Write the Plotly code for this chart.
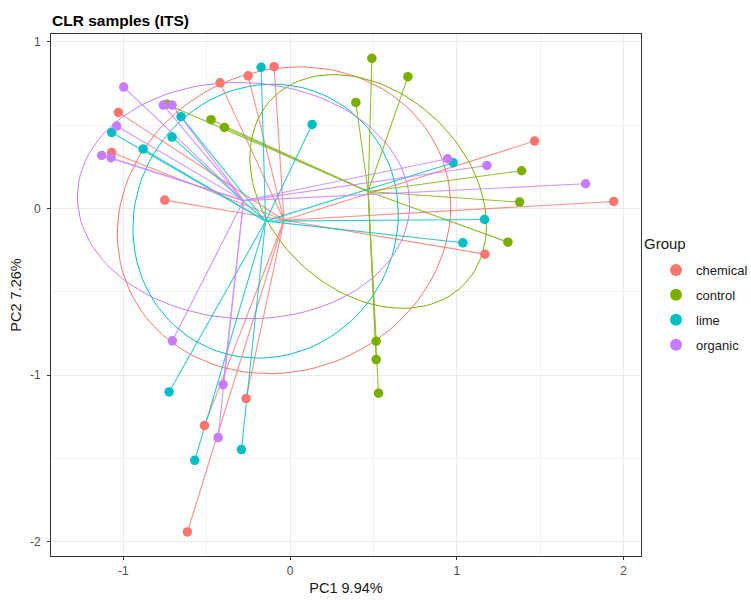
import numpy as np
import plotly.graph_objects as go

# ---- data ----
groups = ["chemical", "control", "lime", "organic"]
colors = ["#F8766D", "#7CAE00", "#00BFC4", "#C77CFF"]

chemical_pc1 = [-0.096, -0.252, -0.42, -1.03, -1.07, -0.752, 1.466, 1.94, 1.168, -0.264, -0.514, -0.616]
chemical_pc2 = [0.85, 0.795, 0.753, 0.576, 0.335, 0.05, 0.404, 0.042, -0.274, -1.14, -1.302, -1.94]

control_pc1 = [0.49, 0.706, 0.394, 1.388, 1.376, 1.306, 0.516, 0.516, 0.53, -0.74, -0.474, -0.394]
control_pc2 = [0.9, 0.79, 0.636, 0.226, 0.038, -0.202, -0.796, -0.906, -1.108, 0.625, 0.532, 0.486]

lime_pc1 = [-0.174, 0.132, -0.654, -0.708, -1.07, -0.882, 0.978, 1.166, 1.036, -0.726, -0.572, -0.292]
lime_pc2 = [0.846, 0.504, 0.55, 0.428, 0.456, 0.356, 0.274, -0.066, -0.206, -1.1, -1.51, -1.446]

organic_pc1 = [-0.998, -0.76, -0.708, -1.04, -1.13, -1.074, 0.944, 1.18, 1.772, -0.706, -0.402, -0.432]
organic_pc2 = [0.728, 0.62, 0.62, 0.494, 0.318, 0.304, 0.298, 0.258, 0.148, -0.794, -1.056, -1.374]

pc1 = [chemical_pc1, control_pc1, lime_pc1, organic_pc1]
pc2 = [chemical_pc2, control_pc2, lime_pc2, organic_pc2]

x_ticks = [-1, 0, 1, 2]
y_ticks = [-2, -1, 0, 1]


def sd_ellipse(x, y, npoints=100):
    """Standard-deviation ellipse (covariance ellipse, scale 1) around the centroid."""
    X = np.column_stack([x, y])
    center = X.mean(axis=0)
    cov = np.cov(X, rowvar=False)
    R = np.linalg.cholesky(cov).T
    ang = np.arange(npoints + 1) * 2 * np.pi / npoints
    circ = np.column_stack([np.cos(ang), np.sin(ang)])
    E = center + circ @ R
    return E[:, 0], E[:, 1]


fig = go.Figure()

# ellipses
for g, c, xs, ys in zip(groups, colors, pc1, pc2):
    ex, ey = sd_ellipse(np.array(xs), np.array(ys))
    fig.add_trace(go.Scatter(x=ex, y=ey, mode="lines", line=dict(color=c, width=1),
                             showlegend=False, hoverinfo="skip"))

# spiders
for g, c, xs, ys in zip(groups, colors, pc1, pc2):
    cx, cy = float(np.mean(xs)), float(np.mean(ys))
    sx, sy = [], []
    for a, b in zip(xs, ys):
        sx += [cx, a, None]
        sy += [cy, b, None]
    fig.add_trace(go.Scatter(x=sx, y=sy, mode="lines", line=dict(color=c, width=1.1),
                             opacity=0.8, showlegend=False, hoverinfo="skip"))

# points
for g, c, xs, ys in zip(groups, colors, pc1, pc2):
    fig.add_trace(go.Scatter(x=xs, y=ys, mode="markers", name=g, legendgroup=g,
                             marker=dict(color=c, size=9.5, line=dict(width=0))))

axis_common = dict(
    showgrid=True, gridcolor="#EBEBEB", gridwidth=1, automargin=False,
    zeroline=False, showline=True, linecolor="#333333", linewidth=1, mirror=True,
    ticks="outside", ticklen=3, tickcolor="#333333", tickwidth=1,
    tickfont=dict(family="Liberation Sans, Arial", size=12, color="#4D4D4D"),
    minor=dict(showgrid=True, gridcolor="#F2F2F2", gridwidth=1, dtick=0.5),
)

fig.update_layout(
    width=751, height=600,
    margin=dict(l=51, r=110, t=34, b=44, autoexpand=False),
    paper_bgcolor="white", plot_bgcolor="white",
    font=dict(family="Liberation Sans, Arial", color="black"),
    xaxis=dict(range=[-1.434, 2.104], tickvals=x_ticks, ticktext=[str(v) for v in x_ticks],
               ticklabelstandoff=1,
               title=dict(text="PC1 9.94%", font=dict(size=14.5, color="#1A1A1A"), standoff=5),
               **axis_common),
    yaxis=dict(range=[-2.084, 1.046], tickvals=y_ticks, ticktext=[str(v) for v in y_ticks],
               ticklabelstandoff=4,
               title=dict(text="PC2 7.26%", font=dict(size=14.5, color="#1A1A1A"), standoff=4),
               **axis_common),
    legend=dict(xref="container", yref="container", x=656 / 751, xanchor="left",
                y=0.575, yanchor="top",
                font=dict(size=13, color="#1A1A1A"), tracegroupgap=5,
                bgcolor="rgba(0,0,0,0)", itemsizing="constant"),
    annotations=[
        dict(text="<b>CLR samples (ITS)</b>", xref="paper", yref="paper", x=-1 / 590,
             y=(556 - 20) / 522, xanchor="left", yanchor="middle", showarrow=False,
             font=dict(size=15.5, color="black")),
        dict(text="Group", xref="paper", yref="paper", x=1.0 + 1 / 590,
             y=(556 - 243) / 522, xanchor="left", yanchor="middle",
             showarrow=False, font=dict(size=15, color="#1A1A1A")),
    ],
)

fig.write_html("out.html")
